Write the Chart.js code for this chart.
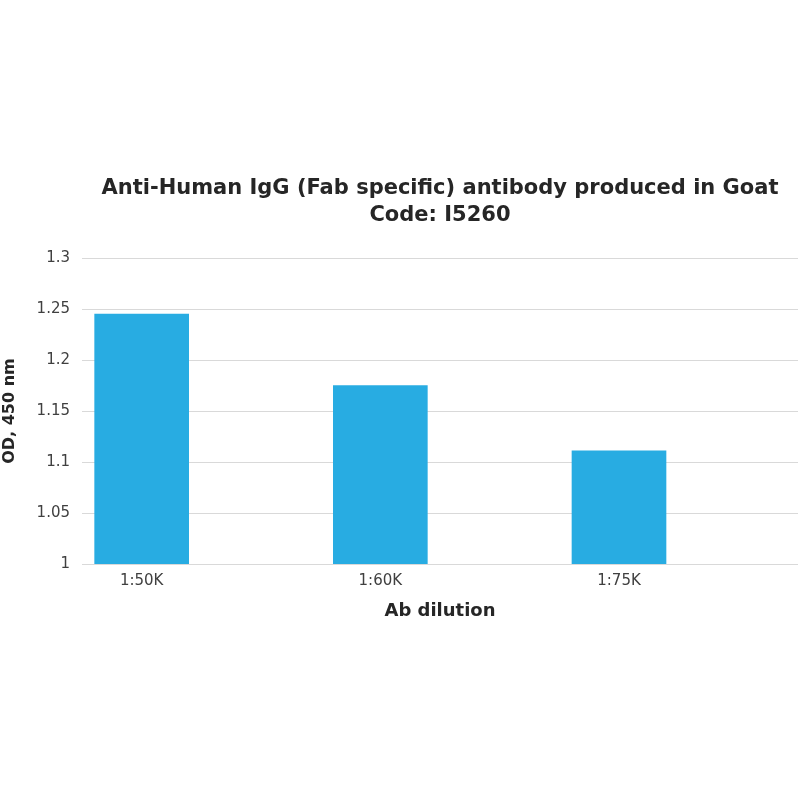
<!DOCTYPE html>
<html>
<head>
<meta charset="utf-8">
<script src="https://cdn.jsdelivr.net/npm/chart.js@4.4.1/dist/chart.umd.min.js"></script>
<style>
  html, body { margin: 0; padding: 0; background: #fff; }
  #wrap { width: 800px; height: 800px; }
</style>
</head>
<body>
<div id="wrap"><canvas id="myChart" width="800" height="800"></canvas></div>
<script>
// chart data
const dilutions = ['1:50K', '1:60K', '1:75K'];
const odValues = [1.245, 1.175, 1.111];
const yTicks = [1, 1.05, 1.1, 1.15, 1.2, 1.25, 1.3];
const titleLines = ['Anti-Human IgG (Fab specific) antibody produced in Goat', 'Code: I5260'];

const points = [];
for (let i = 0; i < odValues.length; i++) {
	points.push({ x: i, y: odValues[i] });
}

const ctx = document.getElementById('myChart').getContext('2d');
const myChart = new Chart(ctx, {
	type: 'bar',
	data: {
		datasets: [{
			label: 'OD',
			data: points,
			backgroundColor: '#28ACE2',
			borderWidth: 0,
			barThickness: 94
		}]
	},
	options: {
		responsive: false,
		animation: false,
		layout: { padding: { top: 0, left: 0, right: 2, bottom: 178 } },
		plugins: {
			legend: { display: false },
			tooltip: { enabled: false },
			title: {
				display: true,
				text: titleLines,
				fullSize: false,
				color: '#262626',
				font: { family: "'DejaVu Sans', sans-serif", size: 21, weight: 'bold', lineHeight: 1.24 },
				padding: { top: 176, bottom: 30 }
			}
		},
		scales: {
			x: {
				type: 'linear',
				offset: false,
				min: -0.25,
				max: 2.75,
				grid: { display: false, offset: false },
				border: { display: false },
				afterBuildTicks: function(scale) {
					scale.ticks = dilutions.map((d, i) => ({ value: i }));
				},
				afterFit: function(scale) { scale.height = 58; },
				ticks: {
					color: '#404040',
					padding: 0,
					font: { family: "'DejaVu Sans', sans-serif", size: 15 },
					callback: function(v) { return dilutions[v]; }
				},
				title: {
					display: true,
					text: 'Ab dilution',
					color: '#262626',
					font: { family: "'DejaVu Sans', sans-serif", size: 18, weight: 'bold' },
					padding: { top: 4, bottom: 0 }
				}
			},
			y: {
				min: 1,
				max: 1.3,
				afterBuildTicks: function(scale) {
					scale.ticks = yTicks.map(v => ({ value: v }));
				},
				afterFit: function(scale) { scale.width = 82; },
				grid: { color: '#d9d9d9', lineWidth: 1, drawTicks: false },
				border: { display: false },
				ticks: {
					color: '#404040',
					padding: 12,
					font: { family: "'DejaVu Sans', sans-serif", size: 15 },
					callback: function(v) { return String(+v.toFixed(2)); }
				},
				title: {
					display: true,
					text: 'OD, 450 nm',
					color: '#262626',
					font: { family: "'DejaVu Sans', sans-serif", size: 16, weight: 'bold' },
					padding: { top: 0, bottom: 0 }
				}
			}
		}
	}
});
</script>
</body>
</html>
